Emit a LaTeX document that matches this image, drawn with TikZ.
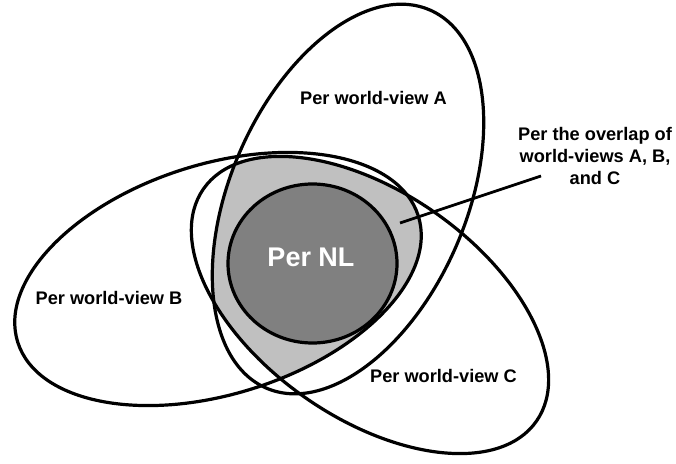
\documentclass[tikz,border=0pt]{standalone}
\usepackage{fontspec}
\setmainfont{Liberation Sans}
\definecolor{ovlgrey}{HTML}{C0C0C0}
\definecolor{nlgrey}{HTML}{808080}
\tikzset{
  outline/.style={line width=3.2pt, black},
  lbl/.style={font=\bfseries\fontsize{18.2}{22}\selectfont, inner sep=0pt, align=center},
  leader/.style={line width=2.8pt, black}
}
\begin{document}
\begin{tikzpicture}[x=1pt,y=1pt]
\useasboundingbox (0,0) rectangle (676,463);
% centres
\coordinate (cA) at (348,264);
\coordinate (cB) at (218,184);
\coordinate (cC) at (370,158);
\coordinate (cNL) at (312.5,199.5);
% overlap of A, B and C
\begin{scope}
  \clip[rotate around={66.6:(cA)}] (cA) ellipse [x radius=206, y radius=118];
  \clip[rotate around={17.5:(cB)}] (cB) ellipse [x radius=210, y radius=115];
  \fill[ovlgrey, rotate around={-34.9:(cC)}] (cC) ellipse [x radius=203, y radius=113];
\end{scope}
% Per NL
\fill[nlgrey] (cNL) ellipse [x radius=84.5, y radius=79.5];
% outlines
\draw[outline, rotate around={66.6:(cA)}] (cA) ellipse [x radius=206, y radius=118];
\draw[outline, rotate around={17.5:(cB)}] (cB) ellipse [x radius=210, y radius=115];
\draw[outline, rotate around={-34.9:(cC)}] (cC) ellipse [x radius=203, y radius=113];
\draw[outline] (cNL) ellipse [x radius=84.5, y radius=79.5];
% labels
\node[lbl] (labA) at (373.5,365) {Per world-view A};
\node[lbl] (labB) at (109,165) {Per world-view B};
\node[lbl] (labC) at (443.5,87) {Per world-view C};
\node[lbl] (labO) at (595,307) {Per the overlap of\\world-views A, B,\\and C};
\node[font=\bfseries\fontsize{27}{30}\selectfont, text=white, inner sep=0pt] (labNL) at (311,206) {Per NL};
% leader
\coordinate (ovl) at (400,240);
\coordinate (lend) at (541,287);
\draw[leader] (ovl) -- (lend);
\end{tikzpicture}
\end{document}
